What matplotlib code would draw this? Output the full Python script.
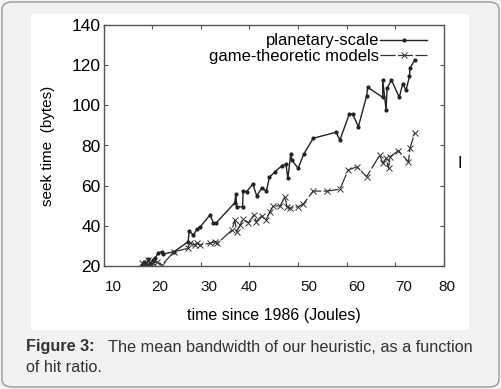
import matplotlib
matplotlib.use('Agg')
import matplotlib.pyplot as plt
from matplotlib.patches import Rectangle, FancyBboxPatch

plt.rcParams['font.family'] = ['Liberation Sans', 'DejaVu Sans']

# planetary-scale
ps_x = [17.9, 18.4, 18.8, 19.2, 19.6, 20.2, 20.6, 21.3, 22.0, 22.3, 24.5,
        27.4, 27.6, 28.5, 29.2, 29.8, 31.9, 32.6, 33.1, 37.0, 37.2, 37.4,
        38.6, 38.7, 39.4, 40.7, 41.5, 42.5, 43.5, 44.1, 45.3, 46.6, 47.5,
        47.9, 48.5, 48.7, 50.0, 51.2, 53.1, 57.8, 58.6, 60.5, 61.2, 62.4,
        64.1, 64.3, 67.4, 67.4, 68.1, 68.3, 69.2, 70.8, 71.5, 72.2, 72.9,
        73.0, 74.0]
ps_y = [20.5, 22.0, 20.3, 23.5, 21.0, 23.0, 23.8, 26.6, 27.1, 26.0, 27.1,
        32.1, 37.4, 35.4, 38.3, 39.3, 45.4, 41.6, 41.3, 51.5, 55.9, 49.5,
        49.5, 57.5, 57.0, 60.8, 54.9, 58.7, 57.5, 64.2, 67.0, 69.8, 70.8,
        63.7, 75.8, 72.8, 68.7, 75.8, 83.6, 86.6, 82.7, 95.5, 95.7, 89.4,
        104.7, 109.0, 104.0, 112.6, 97.7, 108.5, 112.6, 104.0, 110.6, 107.6,
        114.4, 118.5, 122.6]

# game-theoretic models
gt_x = [18.0, 18.6, 19.2, 19.6, 20.2, 20.9, 22.0, 24.5, 27.4, 27.8, 28.8,
        29.2, 29.8, 31.9, 32.9, 33.4, 36.4, 37.0, 37.4, 38.1, 38.7, 39.8,
        40.9, 41.4, 42.5, 43.4, 44.2, 44.9, 46.3, 47.3, 47.7, 48.3, 50.0,
        51.1, 53.1, 55.9, 58.6, 60.3, 62.1, 64.1, 66.8, 67.4, 68.1, 68.6,
        68.9, 70.6, 72.7, 73.0, 74.0]
gt_y = [21.5, 20.0, 23.0, 19.7, 21.3, 22.1, 20.5, 27.1, 28.8, 31.3, 30.5,
        31.6, 30.5, 31.3, 32.1, 31.3, 37.9, 42.9, 37.1, 40.4, 43.2, 41.6,
        45.4, 42.1, 44.9, 42.9, 47.0, 49.9, 49.9, 54.5, 49.5, 48.7, 49.5,
        50.9, 57.3, 57.3, 58.2, 67.8, 69.4, 64.5, 75.3, 71.1, 73.6, 68.7,
        74.4, 77.4, 71.9, 78.6, 86.4]

y_ticks = [20, 40, 60, 80, 100, 120, 140]
x_ticks = [10, 20, 30, 40, 50, 60, 70, 80]
x_tick_labels = ['10', '20', '30', '40', '50', '60', '70', '80']
# where the labels sit in the original (they are shifted from the ticks)
x_label_pos = [11.95, 21.6, 31.7, 39.9, 52.2, 62.1, 71.8, 80.6]

W, H = 501, 389
fig = plt.figure(figsize=(W / 100, H / 100), dpi=100)
fig.patch.set_facecolor('#f1f2f2')

# rounded card border and white chart panel
fig.patches.append(FancyBboxPatch((2 / W, 2 / H), 497 / W, 385 / H,
                                  boxstyle='round,pad=0,rounding_size=0.02',
                                  transform=fig.transFigure, facecolor='none',
                                  edgecolor='#9a9a9a', linewidth=1.0,
                                  zorder=-2))
fig.patches.append(Rectangle((31 / W, 1 - 330 / H), 438 / W, 316 / H,
                             transform=fig.transFigure, facecolor='white',
                             edgecolor='none', zorder=-1))

ax = fig.add_axes([103.5 / W, 1 - 266 / H, 340.5 / W, 241 / H])
ax.set_zorder(1)
ax.set_facecolor('white')

ax.plot(ps_x, ps_y, '-', color='#222222', linewidth=1.0, marker='o',
        markersize=2, label='planetary-scale')
ax.plot(gt_x, gt_y, color='#333333', linewidth=0.9, dashes=(12, 2),
        marker='x', markersize=4, markeredgewidth=0.7,
        label='game-theoretic models')

ax.set_xlim(10, 80)
ax.set_ylim(20, 140)
ax.set_yticks(y_ticks)
ax.set_xticks(x_ticks)
ax.set_xticklabels([''] * len(x_ticks))
for s in ax.spines.values():
    s.set_color('#555555')
    s.set_linewidth(1.0)
ax.tick_params(direction='in', length=3, width=0.8, color='#555555',
               top=True, right=True)
ax.tick_params(axis='y', labelsize=12.5, pad=2)
for p, t in zip(x_label_pos, x_tick_labels):
    ax.text(p, -0.06, t, transform=ax.get_xaxis_transform(),
            ha='center', va='top', fontsize=11, color='#111111')

ax.set_xlabel('time since 1986 (Joules)', fontsize=11.5, labelpad=27)
ax.set_ylabel('seek time  (bytes)', fontsize=11, labelpad=12)

leg = ax.legend(loc='upper right', frameon=False, markerfirst=False,
                fontsize=12, handlelength=2.8, handletextpad=0.1,
                labelspacing=0.05, borderaxespad=0.1,
                bbox_to_anchor=(0.975, 1.0))

fig.text(460 / W, 1 - 164 / H, 'I', fontsize=12, ha='center', va='center')

# caption
fig.canvas.draw()
cap1 = fig.text(26 / W, 1 - 347 / H, 'Figure 3:', fontsize=11.7,
                fontweight='bold', color='#333333', va='center')
fig.canvas.draw()
bb = cap1.get_window_extent()
fig.text((bb.x1 + 13) / W, 1 - 347 / H,
         'The mean bandwidth of our heuristic, as a function',
         fontsize=11.7, color='#333333', va='center')
fig.text(26 / W, 1 - 368 / H, 'of hit ratio.', fontsize=11.7,
         color='#333333', va='center')

fig.savefig('out.png', dpi=100, facecolor=fig.get_facecolor())
